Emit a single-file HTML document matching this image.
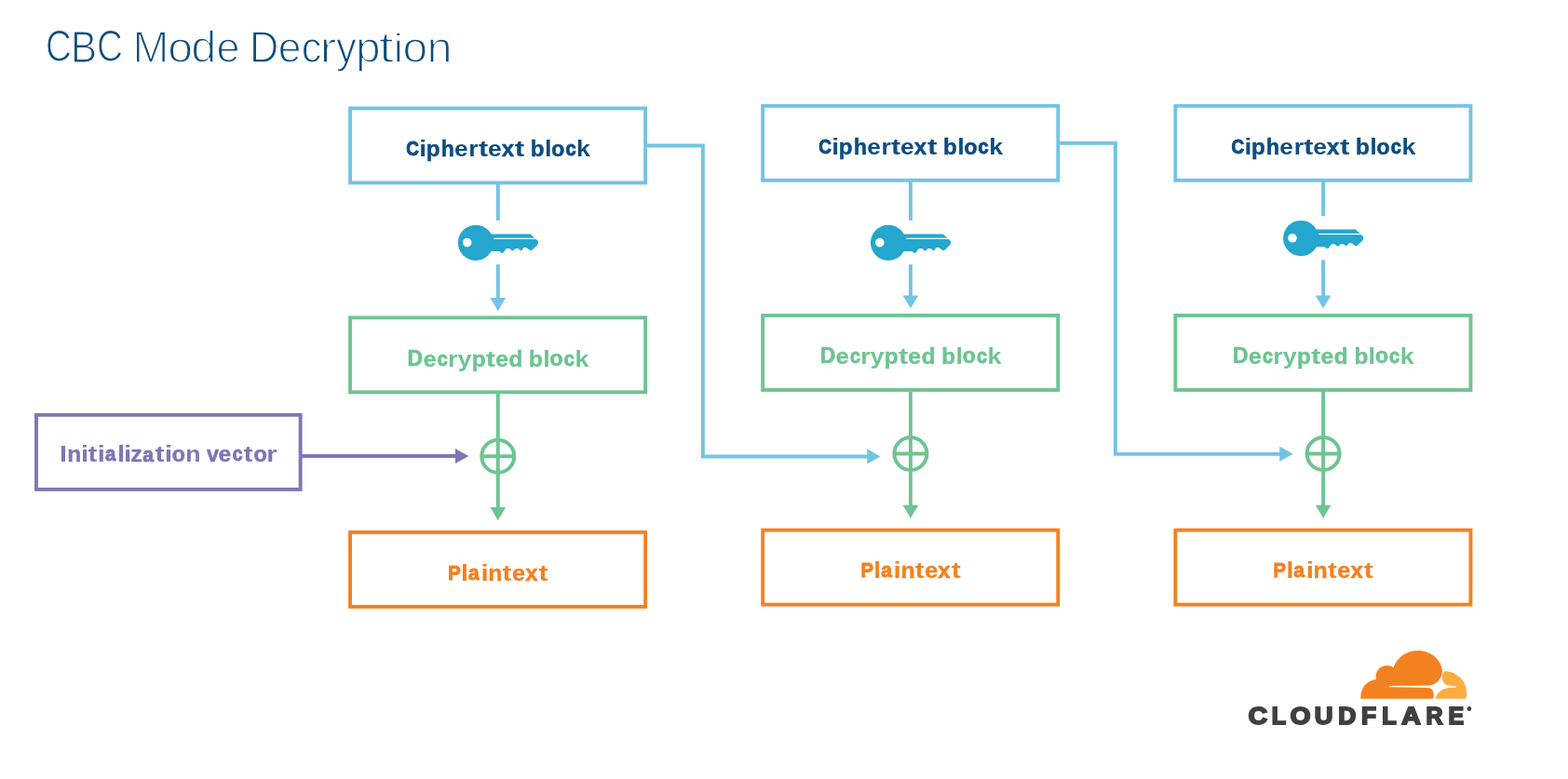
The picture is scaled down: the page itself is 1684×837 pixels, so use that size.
<!DOCTYPE html>
<html lang="en">
<head>
<meta charset="utf-8">
<title>CBC Mode Decryption</title>
<style>
html,body{margin:0;padding:0;background:#fff;}
body{width:1684px;height:837px;overflow:hidden;}
svg{display:block;will-change:transform;}
text{font-family:"Liberation Sans",sans-serif;}
</style>
</head>
<body>
<svg width="1684" height="837" viewBox="0 0 1684 837">
<rect width="1684" height="837" fill="#fff"/>

<!-- title -->
<text y="65.90" fill="#0F4D80" font-weight="400" stroke="#fff" stroke-linejoin="round"><tspan x="48.97" y="66.43" textLength="27.77" lengthAdjust="spacingAndGlyphs" font-size="47.32" stroke-width="1.05">C</tspan><tspan x="76.03" y="66.52" textLength="28.11" lengthAdjust="spacingAndGlyphs" font-size="47.58" stroke-width="1.23">B</tspan><tspan x="104.00" y="66.43" textLength="27.96" lengthAdjust="spacingAndGlyphs" font-size="47.33" stroke-width="1.07">C</tspan><tspan> </tspan><tspan x="142.44" y="66.63" textLength="38.92" lengthAdjust="spacingAndGlyphs" font-size="47.90" stroke-width="1.46">M</tspan><tspan x="180.39" y="66.64" textLength="26.77" lengthAdjust="spacingAndGlyphs" font-size="46.67" stroke-width="1.48">o</tspan><tspan x="205.26" y="66.69" textLength="27.18" lengthAdjust="spacingAndGlyphs" font-size="48.50" stroke-width="1.58">d</tspan><tspan x="232.62" y="66.56" textLength="25.10" lengthAdjust="spacingAndGlyphs" font-size="46.40" stroke-width="1.33">e</tspan><tspan> </tspan><tspan x="268.01" y="66.54" textLength="31.20" lengthAdjust="spacingAndGlyphs" font-size="47.65" stroke-width="1.28">D</tspan><tspan x="298.66" y="66.55" textLength="24.77" lengthAdjust="spacingAndGlyphs" font-size="46.35" stroke-width="1.30">e</tspan><tspan x="323.65" y="66.52" textLength="21.61" lengthAdjust="spacingAndGlyphs" font-size="46.23" stroke-width="1.23">c</tspan><tspan x="343.33" y="66.70" textLength="18.38" lengthAdjust="spacingAndGlyphs" font-size="46.90" stroke-width="1.60">r</tspan><tspan x="361.07" y="66.53" textLength="21.85" lengthAdjust="spacingAndGlyphs" font-size="46.27" stroke-width="1.26">y</tspan><tspan x="381.94" y="66.63" textLength="26.60" lengthAdjust="spacingAndGlyphs" font-size="46.65" stroke-width="1.46">p</tspan><tspan x="406.40" y="66.70" textLength="16.54" lengthAdjust="spacingAndGlyphs" font-size="46.90" stroke-width="1.60">t</tspan><tspan x="422.10" y="66.70" textLength="11.63" lengthAdjust="spacingAndGlyphs" font-size="45.24" stroke-width="1.60">i</tspan><tspan x="432.45" y="66.64" textLength="26.70" lengthAdjust="spacingAndGlyphs" font-size="46.66" stroke-width="1.47">o</tspan><tspan x="458.49" y="66.66" textLength="27.26" lengthAdjust="spacingAndGlyphs" font-size="46.75" stroke-width="1.52">n</tspan></text>
<!-- column 1 -->
<rect x="376.05" y="116.40" width="317.10" height="80.00" fill="none" stroke="#72C4E4" stroke-width="3.9"/>
<rect x="376.05" y="341.30" width="317.10" height="80.05" fill="none" stroke="#6EC492" stroke-width="3.9"/>
<rect x="376.05" y="571.90" width="317.10" height="80.00" fill="none" stroke="#F4811F" stroke-width="3.9"/>
<line x1="534.80" y1="196.40" x2="534.80" y2="236.90" stroke="#72C4E4" stroke-width="3.9"/>
<line x1="534.80" y1="284.10" x2="534.80" y2="321.00" stroke="#72C4E4" stroke-width="3.9"/>
<polygon points="526.45,320.10 543.15,320.10 534.80,333.90" fill="#72C4E4"/>
<g transform="translate(0.00,0.00)"><circle cx="510.9" cy="260.8" r="19.1" fill="#24A6CE"/><polygon points="526.00,251.40 569.60,251.40 576.30,257.60 577.50,258.70 577.95,259.80 577.95,261.50 577.40,262.70 571.80,268.40 570.50,268.95 568.90,268.70 565.30,265.90 562.40,265.90 560.30,268.90 558.60,268.90 556.60,267.00 553.40,267.00 551.30,269.30 549.80,269.30 547.30,267.00 543.80,267.00 540.40,271.50 539.20,271.90 538.00,271.50 536.60,270.00 526.00,270.00" fill="#24A6CE"/><circle cx="501.7" cy="260.6" r="4.8" fill="#fff"/><rect x="530.2" y="255.7" width="50" height="1.2" fill="#fff"/></g>
<line x1="534.80" y1="421.40" x2="534.80" y2="546.00" stroke="#6EC492" stroke-width="3.9"/>
<polygon points="526.45,545.10 543.15,545.10 534.80,559.20" fill="#6EC492"/>
<circle cx="534.80" cy="490.25" r="17.5" fill="none" stroke="#6EC492" stroke-width="4"/>
<line x1="517.30" y1="490.25" x2="552.30" y2="490.25" stroke="#6EC492" stroke-width="3.9"/>
<text y="167.90" fill="#0F4D80" font-size="24.0" font-weight="700" stroke-linejoin="miter"><tspan x="436.22" y="167.40" textLength="13.70" lengthAdjust="spacingAndGlyphs" font-size="22.61" stroke="#0F4D80" stroke-width="1.00">C</tspan><tspan x="450.22" y="167.90" textLength="7.90" lengthAdjust="spacingAndGlyphs">i</tspan><tspan x="457.74" y="167.66" textLength="14.83" lengthAdjust="spacingAndGlyphs" font-size="23.35" stroke="#0F4D80" stroke-width="0.47">p</tspan><tspan x="473.80" y="167.59" textLength="14.12" lengthAdjust="spacingAndGlyphs" font-size="23.13" stroke="#0F4D80" stroke-width="0.63">h</tspan><tspan x="488.07" y="167.90" textLength="14.63" lengthAdjust="spacingAndGlyphs">e</tspan><tspan x="503.35" y="167.90" textLength="10.36" lengthAdjust="spacingAndGlyphs">r</tspan><tspan x="513.93" y="167.90" textLength="10.14" lengthAdjust="spacingAndGlyphs">t</tspan><tspan x="523.96" y="167.90" textLength="14.74" lengthAdjust="spacingAndGlyphs">e</tspan><tspan x="538.67" y="167.66" textLength="13.46" lengthAdjust="spacingAndGlyphs" font-size="23.34" stroke="#0F4D80" stroke-width="0.48">x</tspan><tspan x="552.81" y="167.90" textLength="10.58" lengthAdjust="spacingAndGlyphs">t</tspan><tspan> </tspan><tspan x="569.84" y="167.66" textLength="14.83" lengthAdjust="spacingAndGlyphs" font-size="23.35" stroke="#0F4D80" stroke-width="0.47">b</tspan><tspan x="585.04" y="167.90" textLength="7.59" lengthAdjust="spacingAndGlyphs">l</tspan><tspan x="592.32" y="167.58" textLength="14.05" lengthAdjust="spacingAndGlyphs" font-size="23.11" stroke="#0F4D80" stroke-width="0.64">o</tspan><tspan x="607.47" y="167.40" textLength="11.17" lengthAdjust="spacingAndGlyphs" font-size="22.61" stroke="#0F4D80" stroke-width="1.00">c</tspan><tspan x="619.12" y="167.90" textLength="14.95" lengthAdjust="spacingAndGlyphs">k</tspan></text>
<text y="393.75" fill="#6EC492" font-size="24.0" font-weight="700" stroke-linejoin="miter"><tspan x="437.60" y="393.42" textLength="16.53" lengthAdjust="spacingAndGlyphs" font-size="23.09" stroke="#6EC492" stroke-width="0.66">D</tspan><tspan x="454.72" y="393.56" textLength="13.84" lengthAdjust="spacingAndGlyphs" font-size="23.46" stroke="#6EC492" stroke-width="0.39">e</tspan><tspan x="469.73" y="393.25" textLength="10.95" lengthAdjust="spacingAndGlyphs" font-size="22.61" stroke="#6EC492" stroke-width="1.00">c</tspan><tspan x="481.02" y="393.75" textLength="10.48" lengthAdjust="spacingAndGlyphs">r</tspan><tspan x="491.49" y="393.75" textLength="15.06" lengthAdjust="spacingAndGlyphs">y</tspan><tspan x="506.67" y="393.52" textLength="14.91" lengthAdjust="spacingAndGlyphs" font-size="23.37" stroke="#6EC492" stroke-width="0.45">p</tspan><tspan x="521.82" y="393.75" textLength="10.36" lengthAdjust="spacingAndGlyphs">t</tspan><tspan x="532.24" y="393.55" textLength="13.75" lengthAdjust="spacingAndGlyphs" font-size="23.44" stroke="#6EC492" stroke-width="0.41">e</tspan><tspan x="546.54" y="393.51" textLength="14.83" lengthAdjust="spacingAndGlyphs" font-size="23.35" stroke="#6EC492" stroke-width="0.47">d</tspan><tspan> </tspan><tspan x="568.14" y="393.51" textLength="14.83" lengthAdjust="spacingAndGlyphs" font-size="23.35" stroke="#6EC492" stroke-width="0.47">b</tspan><tspan x="583.34" y="393.75" textLength="7.59" lengthAdjust="spacingAndGlyphs">l</tspan><tspan x="590.62" y="393.43" textLength="14.05" lengthAdjust="spacingAndGlyphs" font-size="23.11" stroke="#6EC492" stroke-width="0.64">o</tspan><tspan x="605.77" y="393.25" textLength="11.17" lengthAdjust="spacingAndGlyphs" font-size="22.61" stroke="#6EC492" stroke-width="1.00">c</tspan><tspan x="617.42" y="393.75" textLength="14.95" lengthAdjust="spacingAndGlyphs">k</tspan></text>
<text y="623.85" fill="#F4811F" font-size="24.0" font-weight="700" stroke-linejoin="miter"><tspan x="481.24" y="623.35" textLength="13.55" lengthAdjust="spacingAndGlyphs" font-size="22.61" stroke="#F4811F" stroke-width="1.00">P</tspan><tspan x="495.12" y="623.85" textLength="7.90" lengthAdjust="spacingAndGlyphs">l</tspan><tspan x="502.99" y="623.40" textLength="11.73" lengthAdjust="spacingAndGlyphs" font-size="22.74" stroke="#F4811F" stroke-width="0.91">a</tspan><tspan x="516.41" y="623.85" textLength="8.30" lengthAdjust="spacingAndGlyphs">i</tspan><tspan x="524.25" y="623.66" textLength="15.20" lengthAdjust="spacingAndGlyphs" font-size="23.46" stroke="#F4811F" stroke-width="0.39">n</tspan><tspan x="539.64" y="623.85" textLength="9.82" lengthAdjust="spacingAndGlyphs">t</tspan><tspan x="550.09" y="623.68" textLength="14.00" lengthAdjust="spacingAndGlyphs" font-size="23.52" stroke="#F4811F" stroke-width="0.35">e</tspan><tspan x="564.19" y="623.59" textLength="13.33" lengthAdjust="spacingAndGlyphs" font-size="23.29" stroke="#F4811F" stroke-width="0.51">x</tspan><tspan x="578.53" y="623.85" textLength="10.14" lengthAdjust="spacingAndGlyphs">t</tspan></text>
<!-- column 2 -->
<rect x="819.20" y="113.75" width="317.10" height="80.00" fill="none" stroke="#72C4E4" stroke-width="3.9"/>
<rect x="819.20" y="338.95" width="317.10" height="80.05" fill="none" stroke="#6EC492" stroke-width="3.9"/>
<rect x="819.20" y="569.60" width="317.10" height="80.00" fill="none" stroke="#F4811F" stroke-width="3.9"/>
<line x1="977.95" y1="193.75" x2="977.95" y2="236.90" stroke="#72C4E4" stroke-width="3.9"/>
<line x1="977.95" y1="284.10" x2="977.95" y2="318.35" stroke="#72C4E4" stroke-width="3.9"/>
<polygon points="969.60,317.45 986.30,317.45 977.95,331.25" fill="#72C4E4"/>
<g transform="translate(443.15,0.00)"><circle cx="510.9" cy="260.8" r="19.1" fill="#24A6CE"/><polygon points="526.00,251.40 569.60,251.40 576.30,257.60 577.50,258.70 577.95,259.80 577.95,261.50 577.40,262.70 571.80,268.40 570.50,268.95 568.90,268.70 565.30,265.90 562.40,265.90 560.30,268.90 558.60,268.90 556.60,267.00 553.40,267.00 551.30,269.30 549.80,269.30 547.30,267.00 543.80,267.00 540.40,271.50 539.20,271.90 538.00,271.50 536.60,270.00 526.00,270.00" fill="#24A6CE"/><circle cx="501.7" cy="260.6" r="4.8" fill="#fff"/><rect x="530.2" y="255.7" width="50" height="1.2" fill="#fff"/></g>
<line x1="977.95" y1="419.05" x2="977.95" y2="543.60" stroke="#6EC492" stroke-width="3.9"/>
<polygon points="969.60,542.70 986.30,542.70 977.95,556.80" fill="#6EC492"/>
<circle cx="977.95" cy="487.50" r="17.5" fill="none" stroke="#6EC492" stroke-width="4"/>
<line x1="960.45" y1="487.50" x2="995.45" y2="487.50" stroke="#6EC492" stroke-width="3.9"/>
<text y="165.90" fill="#0F4D80" font-size="24.0" font-weight="700" stroke-linejoin="miter"><tspan x="879.37" y="165.40" textLength="13.70" lengthAdjust="spacingAndGlyphs" font-size="22.61" stroke="#0F4D80" stroke-width="1.00">C</tspan><tspan x="893.37" y="165.90" textLength="7.90" lengthAdjust="spacingAndGlyphs">i</tspan><tspan x="900.89" y="165.66" textLength="14.83" lengthAdjust="spacingAndGlyphs" font-size="23.35" stroke="#0F4D80" stroke-width="0.47">p</tspan><tspan x="916.95" y="165.59" textLength="14.12" lengthAdjust="spacingAndGlyphs" font-size="23.13" stroke="#0F4D80" stroke-width="0.63">h</tspan><tspan x="931.22" y="165.90" textLength="14.63" lengthAdjust="spacingAndGlyphs">e</tspan><tspan x="946.50" y="165.90" textLength="10.36" lengthAdjust="spacingAndGlyphs">r</tspan><tspan x="957.08" y="165.90" textLength="10.14" lengthAdjust="spacingAndGlyphs">t</tspan><tspan x="967.11" y="165.90" textLength="14.74" lengthAdjust="spacingAndGlyphs">e</tspan><tspan x="981.82" y="165.66" textLength="13.46" lengthAdjust="spacingAndGlyphs" font-size="23.34" stroke="#0F4D80" stroke-width="0.48">x</tspan><tspan x="995.96" y="165.90" textLength="10.58" lengthAdjust="spacingAndGlyphs">t</tspan><tspan> </tspan><tspan x="1012.99" y="165.66" textLength="14.83" lengthAdjust="spacingAndGlyphs" font-size="23.35" stroke="#0F4D80" stroke-width="0.47">b</tspan><tspan x="1028.19" y="165.90" textLength="7.59" lengthAdjust="spacingAndGlyphs">l</tspan><tspan x="1035.47" y="165.58" textLength="14.05" lengthAdjust="spacingAndGlyphs" font-size="23.11" stroke="#0F4D80" stroke-width="0.64">o</tspan><tspan x="1050.62" y="165.40" textLength="11.17" lengthAdjust="spacingAndGlyphs" font-size="22.61" stroke="#0F4D80" stroke-width="1.00">c</tspan><tspan x="1062.27" y="165.90" textLength="14.95" lengthAdjust="spacingAndGlyphs">k</tspan></text>
<text y="390.75" fill="#6EC492" font-size="24.0" font-weight="700" stroke-linejoin="miter"><tspan x="880.75" y="390.42" textLength="16.53" lengthAdjust="spacingAndGlyphs" font-size="23.09" stroke="#6EC492" stroke-width="0.66">D</tspan><tspan x="897.87" y="390.56" textLength="13.84" lengthAdjust="spacingAndGlyphs" font-size="23.46" stroke="#6EC492" stroke-width="0.39">e</tspan><tspan x="912.88" y="390.25" textLength="10.95" lengthAdjust="spacingAndGlyphs" font-size="22.61" stroke="#6EC492" stroke-width="1.00">c</tspan><tspan x="924.17" y="390.75" textLength="10.48" lengthAdjust="spacingAndGlyphs">r</tspan><tspan x="934.64" y="390.75" textLength="15.06" lengthAdjust="spacingAndGlyphs">y</tspan><tspan x="949.82" y="390.52" textLength="14.91" lengthAdjust="spacingAndGlyphs" font-size="23.37" stroke="#6EC492" stroke-width="0.45">p</tspan><tspan x="964.97" y="390.75" textLength="10.36" lengthAdjust="spacingAndGlyphs">t</tspan><tspan x="975.39" y="390.55" textLength="13.75" lengthAdjust="spacingAndGlyphs" font-size="23.44" stroke="#6EC492" stroke-width="0.41">e</tspan><tspan x="989.69" y="390.51" textLength="14.83" lengthAdjust="spacingAndGlyphs" font-size="23.35" stroke="#6EC492" stroke-width="0.47">d</tspan><tspan> </tspan><tspan x="1011.29" y="390.51" textLength="14.83" lengthAdjust="spacingAndGlyphs" font-size="23.35" stroke="#6EC492" stroke-width="0.47">b</tspan><tspan x="1026.49" y="390.75" textLength="7.59" lengthAdjust="spacingAndGlyphs">l</tspan><tspan x="1033.77" y="390.43" textLength="14.05" lengthAdjust="spacingAndGlyphs" font-size="23.11" stroke="#6EC492" stroke-width="0.64">o</tspan><tspan x="1048.92" y="390.25" textLength="11.17" lengthAdjust="spacingAndGlyphs" font-size="22.61" stroke="#6EC492" stroke-width="1.00">c</tspan><tspan x="1060.57" y="390.75" textLength="14.95" lengthAdjust="spacingAndGlyphs">k</tspan></text>
<text y="620.85" fill="#F4811F" font-size="24.0" font-weight="700" stroke-linejoin="miter"><tspan x="924.39" y="620.35" textLength="13.55" lengthAdjust="spacingAndGlyphs" font-size="22.61" stroke="#F4811F" stroke-width="1.00">P</tspan><tspan x="938.27" y="620.85" textLength="7.90" lengthAdjust="spacingAndGlyphs">l</tspan><tspan x="946.14" y="620.40" textLength="11.73" lengthAdjust="spacingAndGlyphs" font-size="22.74" stroke="#F4811F" stroke-width="0.91">a</tspan><tspan x="959.56" y="620.85" textLength="8.30" lengthAdjust="spacingAndGlyphs">i</tspan><tspan x="967.40" y="620.66" textLength="15.20" lengthAdjust="spacingAndGlyphs" font-size="23.46" stroke="#F4811F" stroke-width="0.39">n</tspan><tspan x="982.79" y="620.85" textLength="9.82" lengthAdjust="spacingAndGlyphs">t</tspan><tspan x="993.24" y="620.68" textLength="14.00" lengthAdjust="spacingAndGlyphs" font-size="23.52" stroke="#F4811F" stroke-width="0.35">e</tspan><tspan x="1007.34" y="620.59" textLength="13.33" lengthAdjust="spacingAndGlyphs" font-size="23.29" stroke="#F4811F" stroke-width="0.51">x</tspan><tspan x="1021.68" y="620.85" textLength="10.14" lengthAdjust="spacingAndGlyphs">t</tspan></text>
<!-- column 3 -->
<rect x="1262.35" y="113.75" width="317.10" height="80.00" fill="none" stroke="#72C4E4" stroke-width="3.9"/>
<rect x="1262.35" y="338.95" width="317.10" height="80.05" fill="none" stroke="#6EC492" stroke-width="3.9"/>
<rect x="1262.35" y="569.60" width="317.10" height="80.00" fill="none" stroke="#F4811F" stroke-width="3.9"/>
<line x1="1421.10" y1="193.75" x2="1421.10" y2="232.10" stroke="#72C4E4" stroke-width="3.9"/>
<line x1="1421.10" y1="279.30" x2="1421.10" y2="318.35" stroke="#72C4E4" stroke-width="3.9"/>
<polygon points="1412.75,317.45 1429.45,317.45 1421.10,331.25" fill="#72C4E4"/>
<g transform="translate(886.30,-4.80)"><circle cx="510.9" cy="260.8" r="19.1" fill="#24A6CE"/><polygon points="526.00,251.40 569.60,251.40 576.30,257.60 577.50,258.70 577.95,259.80 577.95,261.50 577.40,262.70 571.80,268.40 570.50,268.95 568.90,268.70 565.30,265.90 562.40,265.90 560.30,268.90 558.60,268.90 556.60,267.00 553.40,267.00 551.30,269.30 549.80,269.30 547.30,267.00 543.80,267.00 540.40,271.50 539.20,271.90 538.00,271.50 536.60,270.00 526.00,270.00" fill="#24A6CE"/><circle cx="501.7" cy="260.6" r="4.8" fill="#fff"/><rect x="530.2" y="255.7" width="50" height="1.2" fill="#fff"/></g>
<line x1="1421.10" y1="419.05" x2="1421.10" y2="543.60" stroke="#6EC492" stroke-width="3.9"/>
<polygon points="1412.75,542.70 1429.45,542.70 1421.10,556.80" fill="#6EC492"/>
<circle cx="1421.10" cy="487.50" r="17.5" fill="none" stroke="#6EC492" stroke-width="4"/>
<line x1="1403.60" y1="487.50" x2="1438.60" y2="487.50" stroke="#6EC492" stroke-width="3.9"/>
<text y="165.90" fill="#0F4D80" font-size="24.0" font-weight="700" stroke-linejoin="miter"><tspan x="1322.52" y="165.40" textLength="13.70" lengthAdjust="spacingAndGlyphs" font-size="22.61" stroke="#0F4D80" stroke-width="1.00">C</tspan><tspan x="1336.52" y="165.90" textLength="7.90" lengthAdjust="spacingAndGlyphs">i</tspan><tspan x="1344.04" y="165.66" textLength="14.83" lengthAdjust="spacingAndGlyphs" font-size="23.35" stroke="#0F4D80" stroke-width="0.47">p</tspan><tspan x="1360.10" y="165.59" textLength="14.12" lengthAdjust="spacingAndGlyphs" font-size="23.13" stroke="#0F4D80" stroke-width="0.63">h</tspan><tspan x="1374.37" y="165.90" textLength="14.63" lengthAdjust="spacingAndGlyphs">e</tspan><tspan x="1389.65" y="165.90" textLength="10.36" lengthAdjust="spacingAndGlyphs">r</tspan><tspan x="1400.23" y="165.90" textLength="10.14" lengthAdjust="spacingAndGlyphs">t</tspan><tspan x="1410.26" y="165.90" textLength="14.74" lengthAdjust="spacingAndGlyphs">e</tspan><tspan x="1424.97" y="165.66" textLength="13.46" lengthAdjust="spacingAndGlyphs" font-size="23.34" stroke="#0F4D80" stroke-width="0.48">x</tspan><tspan x="1439.11" y="165.90" textLength="10.58" lengthAdjust="spacingAndGlyphs">t</tspan><tspan> </tspan><tspan x="1456.14" y="165.66" textLength="14.83" lengthAdjust="spacingAndGlyphs" font-size="23.35" stroke="#0F4D80" stroke-width="0.47">b</tspan><tspan x="1471.34" y="165.90" textLength="7.59" lengthAdjust="spacingAndGlyphs">l</tspan><tspan x="1478.62" y="165.58" textLength="14.05" lengthAdjust="spacingAndGlyphs" font-size="23.11" stroke="#0F4D80" stroke-width="0.64">o</tspan><tspan x="1493.77" y="165.40" textLength="11.17" lengthAdjust="spacingAndGlyphs" font-size="22.61" stroke="#0F4D80" stroke-width="1.00">c</tspan><tspan x="1505.42" y="165.90" textLength="14.95" lengthAdjust="spacingAndGlyphs">k</tspan></text>
<text y="390.75" fill="#6EC492" font-size="24.0" font-weight="700" stroke-linejoin="miter"><tspan x="1323.90" y="390.42" textLength="16.53" lengthAdjust="spacingAndGlyphs" font-size="23.09" stroke="#6EC492" stroke-width="0.66">D</tspan><tspan x="1341.02" y="390.56" textLength="13.84" lengthAdjust="spacingAndGlyphs" font-size="23.46" stroke="#6EC492" stroke-width="0.39">e</tspan><tspan x="1356.03" y="390.25" textLength="10.95" lengthAdjust="spacingAndGlyphs" font-size="22.61" stroke="#6EC492" stroke-width="1.00">c</tspan><tspan x="1367.32" y="390.75" textLength="10.48" lengthAdjust="spacingAndGlyphs">r</tspan><tspan x="1377.79" y="390.75" textLength="15.06" lengthAdjust="spacingAndGlyphs">y</tspan><tspan x="1392.97" y="390.52" textLength="14.91" lengthAdjust="spacingAndGlyphs" font-size="23.37" stroke="#6EC492" stroke-width="0.45">p</tspan><tspan x="1408.12" y="390.75" textLength="10.36" lengthAdjust="spacingAndGlyphs">t</tspan><tspan x="1418.54" y="390.55" textLength="13.75" lengthAdjust="spacingAndGlyphs" font-size="23.44" stroke="#6EC492" stroke-width="0.41">e</tspan><tspan x="1432.84" y="390.51" textLength="14.83" lengthAdjust="spacingAndGlyphs" font-size="23.35" stroke="#6EC492" stroke-width="0.47">d</tspan><tspan> </tspan><tspan x="1454.44" y="390.51" textLength="14.83" lengthAdjust="spacingAndGlyphs" font-size="23.35" stroke="#6EC492" stroke-width="0.47">b</tspan><tspan x="1469.64" y="390.75" textLength="7.59" lengthAdjust="spacingAndGlyphs">l</tspan><tspan x="1476.92" y="390.43" textLength="14.05" lengthAdjust="spacingAndGlyphs" font-size="23.11" stroke="#6EC492" stroke-width="0.64">o</tspan><tspan x="1492.07" y="390.25" textLength="11.17" lengthAdjust="spacingAndGlyphs" font-size="22.61" stroke="#6EC492" stroke-width="1.00">c</tspan><tspan x="1503.72" y="390.75" textLength="14.95" lengthAdjust="spacingAndGlyphs">k</tspan></text>
<text y="620.85" fill="#F4811F" font-size="24.0" font-weight="700" stroke-linejoin="miter"><tspan x="1367.54" y="620.35" textLength="13.55" lengthAdjust="spacingAndGlyphs" font-size="22.61" stroke="#F4811F" stroke-width="1.00">P</tspan><tspan x="1381.42" y="620.85" textLength="7.90" lengthAdjust="spacingAndGlyphs">l</tspan><tspan x="1389.29" y="620.40" textLength="11.73" lengthAdjust="spacingAndGlyphs" font-size="22.74" stroke="#F4811F" stroke-width="0.91">a</tspan><tspan x="1402.71" y="620.85" textLength="8.30" lengthAdjust="spacingAndGlyphs">i</tspan><tspan x="1410.55" y="620.66" textLength="15.20" lengthAdjust="spacingAndGlyphs" font-size="23.46" stroke="#F4811F" stroke-width="0.39">n</tspan><tspan x="1425.94" y="620.85" textLength="9.82" lengthAdjust="spacingAndGlyphs">t</tspan><tspan x="1436.39" y="620.68" textLength="14.00" lengthAdjust="spacingAndGlyphs" font-size="23.52" stroke="#F4811F" stroke-width="0.35">e</tspan><tspan x="1450.49" y="620.59" textLength="13.33" lengthAdjust="spacingAndGlyphs" font-size="23.29" stroke="#F4811F" stroke-width="0.51">x</tspan><tspan x="1464.83" y="620.85" textLength="10.14" lengthAdjust="spacingAndGlyphs">t</tspan></text>
<!-- initialization vector -->
<rect x="39.00" y="445.80" width="283.65" height="80.05" fill="none" stroke="#8076B4" stroke-width="3.9"/>
<line x1="322.65" y1="490.05" x2="489.50" y2="490.05" stroke="#8076B4" stroke-width="3.9"/>
<polygon points="489.00,482.00 489.00,498.00 503.30,490.05" fill="#8076B4"/>
<text y="495.95" fill="#8076B4" font-size="24.0" font-weight="700" stroke-linejoin="miter"><tspan x="63.92" y="495.95" textLength="7.99" lengthAdjust="spacingAndGlyphs">I</tspan><tspan x="72.29" y="495.74" textLength="15.02" lengthAdjust="spacingAndGlyphs" font-size="23.41" stroke="#8076B4" stroke-width="0.43">n</tspan><tspan x="87.06" y="495.95" textLength="8.10" lengthAdjust="spacingAndGlyphs">i</tspan><tspan x="94.54" y="495.95" textLength="9.82" lengthAdjust="spacingAndGlyphs">t</tspan><tspan x="104.66" y="495.95" textLength="8.10" lengthAdjust="spacingAndGlyphs">i</tspan><tspan x="113.00" y="495.45" textLength="11.38" lengthAdjust="spacingAndGlyphs" font-size="22.62" stroke="#8076B4" stroke-width="0.99">a</tspan><tspan x="125.99" y="495.95" textLength="8.20" lengthAdjust="spacingAndGlyphs">l</tspan><tspan x="132.91" y="495.95" textLength="8.30" lengthAdjust="spacingAndGlyphs">i</tspan><tspan x="140.33" y="495.80" textLength="12.73" lengthAdjust="spacingAndGlyphs" font-size="23.58" stroke="#8076B4" stroke-width="0.31">z</tspan><tspan x="153.19" y="495.50" textLength="11.73" lengthAdjust="spacingAndGlyphs" font-size="22.74" stroke="#8076B4" stroke-width="0.91">a</tspan><tspan x="166.53" y="495.95" textLength="10.14" lengthAdjust="spacingAndGlyphs">t</tspan><tspan x="176.66" y="495.95" textLength="8.50" lengthAdjust="spacingAndGlyphs">i</tspan><tspan x="184.80" y="495.65" textLength="14.21" lengthAdjust="spacingAndGlyphs" font-size="23.15" stroke="#8076B4" stroke-width="0.61">o</tspan><tspan x="199.25" y="495.95" textLength="16.25" lengthAdjust="spacingAndGlyphs">n</tspan><tspan> </tspan><tspan x="221.90" y="495.65" textLength="13.00" lengthAdjust="spacingAndGlyphs" font-size="23.18" stroke="#8076B4" stroke-width="0.59">v</tspan><tspan x="234.82" y="495.70" textLength="13.35" lengthAdjust="spacingAndGlyphs" font-size="23.30" stroke="#8076B4" stroke-width="0.51">e</tspan><tspan x="249.65" y="495.45" textLength="10.72" lengthAdjust="spacingAndGlyphs" font-size="22.61" stroke="#8076B4" stroke-width="1.00">c</tspan><tspan x="261.63" y="495.95" textLength="10.04" lengthAdjust="spacingAndGlyphs">t</tspan><tspan x="272.47" y="495.66" textLength="14.36" lengthAdjust="spacingAndGlyphs" font-size="23.20" stroke="#8076B4" stroke-width="0.57">o</tspan><tspan x="286.20" y="495.95" textLength="11.24" lengthAdjust="spacingAndGlyphs">r</tspan></text>
<!-- chaining connectors -->
<polyline points="693.15,156.5 754.9,156.5 754.9,490.5 932,490.5" fill="none" stroke="#72C4E4" stroke-width="3.9"/>
<polygon points="931.30,482.30 931.30,498.40 945.50,490.40" fill="#72C4E4"/>
<polyline points="1136.3,153.8 1197.9,153.8 1197.9,487.9 1375,487.9" fill="none" stroke="#72C4E4" stroke-width="3.9"/>
<polygon points="1374.30,479.70 1374.30,495.75 1388.80,487.70" fill="#72C4E4"/>
<!-- cloudflare logo -->
<path fill="#F4811F" d="M1461.4,750.85 C1460.6,741 1467,730.8 1477.9,730.1 C1476.2,721.5 1482,715 1489.2,715 C1492,715 1494.5,715.8 1496.6,717.2 C1500.5,706.5 1510.5,699.05 1522.6,699.05 C1537,699.05 1548.3,709.5 1549,720.8 C1548.6,728 1544.5,735.6 1534.2,736.6 L1492.3,736.9 L1492.3,738.3 L1533.4,739 C1538.5,739.2 1541.2,743.8 1538.9,750.85 Z"/>
<path fill="#FBAD41" d="M1551.3,721.2 C1564.5,721.2 1575.3,731.5 1575.3,745 C1575.3,747 1575,749 1574.2,750.85 L1541.6,750.85 C1543.5,744 1548.5,739.6 1556,739 L1563.9,738.4 L1564.1,737.4 L1556,736.6 C1551,736 1547.6,731 1549,725 Z"/>
<text y="777.75" fill="#404041" font-size="25.65" font-weight="700" stroke="#404041" stroke-width="1.9" stroke-linejoin="miter"><tspan x="1340.79" textLength="20.43" lengthAdjust="spacingAndGlyphs">C</tspan><tspan x="1365.77" textLength="15.35" lengthAdjust="spacingAndGlyphs">L</tspan><tspan x="1385.70" textLength="21.72" lengthAdjust="spacingAndGlyphs">O</tspan><tspan x="1411.71" textLength="19.70" lengthAdjust="spacingAndGlyphs">U</tspan><tspan x="1437.28" textLength="19.08" lengthAdjust="spacingAndGlyphs">D</tspan><tspan x="1462.14" textLength="16.07" lengthAdjust="spacingAndGlyphs">F</tspan><tspan x="1484.36" textLength="15.47" lengthAdjust="spacingAndGlyphs">L</tspan><tspan x="1505.24" textLength="20.56" lengthAdjust="spacingAndGlyphs">A</tspan><tspan x="1531.47" textLength="18.09" lengthAdjust="spacingAndGlyphs">R</tspan><tspan x="1555.58" textLength="16.64" lengthAdjust="spacingAndGlyphs">E</tspan></text>
<text x="1576.0" y="764.0" fill="#404041" stroke="#404041" stroke-width="0.8" stroke-linejoin="round" font-size="5.3" font-weight="700">®</text>
</svg>
</body>
</html>
